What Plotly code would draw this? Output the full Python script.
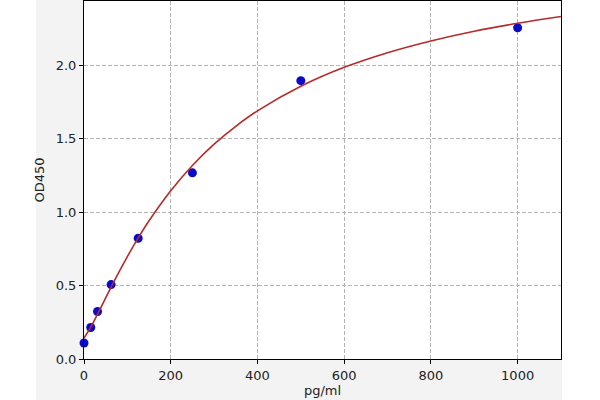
import plotly.graph_objects as go

# Standard points
conc = [0, 15.6, 31.25, 62.5, 125, 250, 500, 1000]
od = [0.109, 0.215, 0.324, 0.507, 0.823, 1.269, 1.897, 2.258]

# Fitted curve
curve_x = [0, 15.6, 31.25, 50, 62.5, 75, 100, 125, 150, 200, 250, 300, 350, 400,
           500, 600, 700, 800, 900, 1000, 1100]
curve_y = [0.143, 0.217, 0.306, 0.417, 0.490, 0.562, 0.698, 0.825, 0.942, 1.147, 1.319,
           1.464, 1.586, 1.691, 1.859, 1.988, 2.088, 2.168, 2.234, 2.288, 2.334]

x_ticks = [0, 200, 400, 600, 800, 1000]
y_ticks = [0.0, 0.5, 1.0, 1.5, 2.0]

fig = go.Figure()
fig.add_trace(go.Scatter(
    x=conc, y=od, mode="markers",
    marker=dict(color="#0a0ac8", size=9, line=dict(width=0)),
    showlegend=False, cliponaxis=False,
))
fig.add_trace(go.Scatter(
    x=curve_x, y=curve_y, mode="lines", line_shape="spline",
    line=dict(color="#b52a2a", width=1.6),
    showlegend=False,
))

# white strips outside the grey figure area
fig.add_shape(type="rect", xref="paper", yref="paper",
              x0=-0.3, x1=(36 - 84) / 477, y0=-0.3, y1=1.3,
              fillcolor="white", line=dict(width=0), layer="below")
fig.add_shape(type="rect", xref="paper", yref="paper",
              x0=(562 - 84) / 477, x1=1.3, y0=-0.3, y1=1.3,
              fillcolor="white", line=dict(width=0), layer="below")

axis_common = dict(
    showline=True, linecolor="black", linewidth=1, mirror=True,
    ticks="outside", ticklen=4, tickcolor="black",
    showgrid=True, gridcolor="#b4b4b4", griddash="4px,2px", gridwidth=1,
    zeroline=False,
    tickfont=dict(family="DejaVu Sans", size=13, color="#222"),
)

fig.update_xaxes(range=[0, 1100], tickvals=x_ticks, ticktext=[str(v) for v in x_ticks],
                 title=dict(text="pg/ml", font=dict(family="DejaVu Sans", size=13, color="#222"), standoff=4),
                 **axis_common)
fig.update_yaxes(range=[0, 2.44], tickvals=y_ticks, ticktext=[f"{v:.1f}" for v in y_ticks],
                 title=dict(text="OD450", font=dict(family="DejaVu Sans", size=13, color="#222"), standoff=8),
                 **axis_common)

fig.update_layout(
    width=600, height=400,
    margin=dict(l=84, r=39, t=1, b=41),
    paper_bgcolor="#f3f3f3", plot_bgcolor="white",
)

fig.write_html("out.html", config={"displayModeBar": False},
               post_script="document.body.style.margin='0';")
